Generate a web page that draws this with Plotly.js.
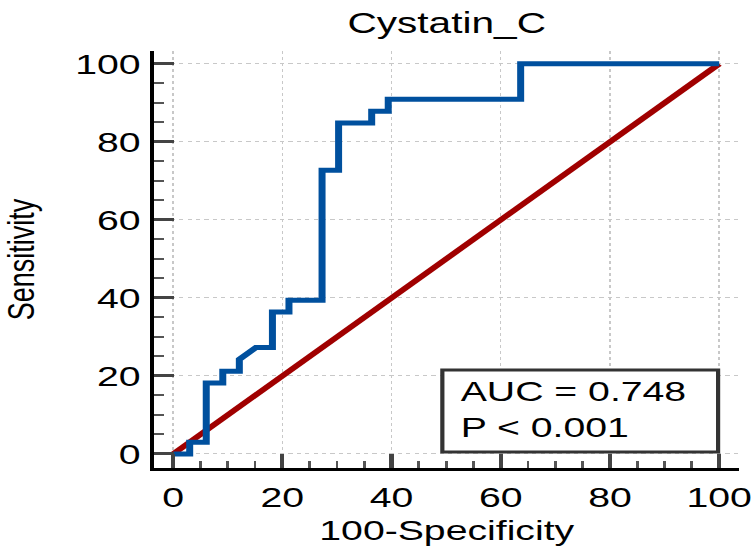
<!DOCTYPE html>
<html>
<head>
<meta charset="utf-8">
<script src="https://cdn.plot.ly/plotly-3.0.1.min.js"></script>
<style>
  html, body { margin: 0; padding: 0; background: #fff; }
  #wrap { width: 752px; height: 546px; overflow: hidden; }
  #plot { width: 537px; height: 546px; transform: scaleX(1.40037); transform-origin: 0 0; }
</style>
</head>
<body>
<div id="wrap"><div id="plot"></div></div>
<script>
// ROC curve (100-Specificity vs Sensitivity)
var fpr = [0, 3.03, 3.03, 6.06, 6.06, 9.09, 9.09, 12.12, 12.12, 15.15, 18.18, 18.18, 21.21, 21.21, 27.27, 27.27, 30.30, 30.30, 36.36, 36.36, 39.39, 39.39, 63.64, 63.64, 100];
var tpr = [0, 0, 3.03, 3.03, 18.18, 18.18, 21.21, 21.21, 24.24, 27.27, 27.27, 36.36, 36.36, 39.39, 39.39, 72.73, 72.73, 84.85, 84.85, 87.88, 87.88, 90.91, 90.91, 100, 100];
// Reference (chance) line
var refX = [0, 100];
var refY = [0, 100];
// Texts
var chartTitle = "Cystatin_C";
var xTitle = "100-Specificity";
var yTitle = "Sensitivity";
var aucText = "AUC = 0.748";
var pText = "P &lt; 0.001";
var tickVals = [0, 20, 40, 60, 80, 100];
var tickText = ["0", "20", "40", "60", "80", "100"];

var FONT = "Liberation Sans, Arial, sans-serif";

var traces = [
  { x: refX, y: refY, type: "scatter", mode: "lines",
    line: { color: "rgb(160,0,0)", width: 5 }, hoverinfo: "skip", showlegend: false },
  { x: fpr, y: tpr, type: "scatter", mode: "lines",
    line: { color: "rgb(0,80,158)", width: 5, shape: "linear" }, showlegend: false }
];

var axisCommon = {
  tickmode: "array", tickvals: tickVals, ticktext: tickText,
  ticks: "inside", ticklen: 14, tickwidth: 3, tickcolor: "#444",
  showline: true, linecolor: "#000", linewidth: 3, mirror: false,
  showgrid: true, gridcolor: "#c8c8c8", gridwidth: 1, griddash: "dot",
  zeroline: false,
  tickfont: { family: FONT, size: 28, color: "#000" },
  minor: { dtick: 5, tick0: 0, ticks: "inside", ticklen: 7, tickwidth: 2, tickcolor: "#555", showgrid: false }
};

var layout = {
  width: 537, height: 546,
  margin: { l: 110, r: 9, t: 51, b: 78 },
  paper_bgcolor: "#fff", plot_bgcolor: "#fff",
  font: { family: FONT, color: "#000" },
  title: { text: chartTitle, font: { family: FONT, size: 29, color: "#000" },
           x: 0.5, xref: "paper", y: 0.958, yref: "container", yanchor: "middle" },
  xaxis: Object.assign({}, axisCommon, {
    range: [-3.5, 103.7],
    ticklabelstandoff: 2,
    title: { text: xTitle, font: { family: FONT, size: 28, color: "#000" }, standoff: 14 }
  }),
  yaxis: Object.assign({}, axisCommon, {
    range: [-3.6, 103.3],
    ticklabelstandoff: 1,
    title: { text: yTitle, font: { family: FONT, size: 27, color: "#000" }, standoff: 22 }
  }),
  shapes: [
    { type: "rect", xref: "x", yref: "y", x0: 49.3, x1: 99.8, y0: 0.5, y1: 21.5,
      fillcolor: "#fff", line: { color: "#333", width: 3 }, layer: "above" }
  ],
  annotations: [
    { xref: "x", yref: "y", x: 52.2, y: 11.5, xanchor: "left", yanchor: "middle", align: "left",
      text: aucText + "<br>" + pText, showarrow: false,
      font: { family: FONT, size: 28, color: "#000" } }
  ]
};

Plotly.newPlot("plot", traces, layout, { displayModeBar: false, staticPlot: true });
</script>
</body>
</html>
